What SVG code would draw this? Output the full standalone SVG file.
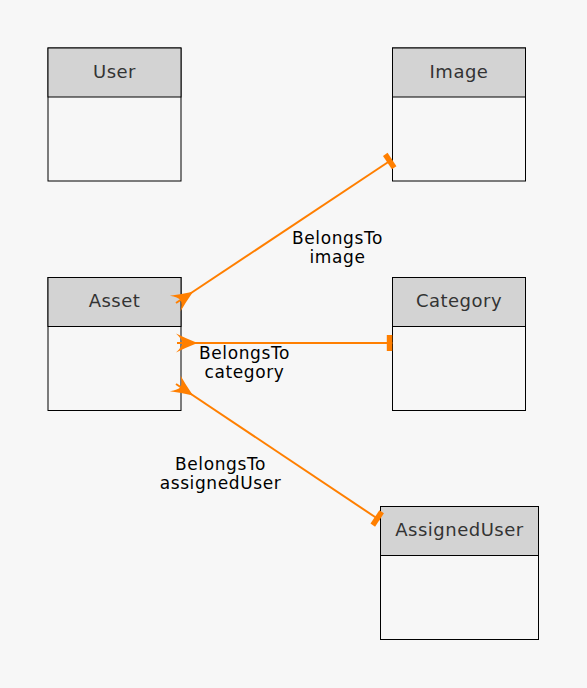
<svg xmlns="http://www.w3.org/2000/svg" width="587" height="688" viewBox="0 0 587 688">
<defs>
<style>
.bg{fill:#f7f7f7}
.body{fill:#f7f7f7;stroke:#000;stroke-width:1}
.head{fill:#d3d3d3;stroke:#000;stroke-width:1}
.title{font-family:"DejaVu Sans",sans-serif;font-size:18px;letter-spacing:0.5px;fill:#333;text-anchor:middle}
.lbl{font-family:"DejaVu Sans",sans-serif;font-size:17px;letter-spacing:0.6px;fill:#000;text-anchor:middle}
.edge{fill:none;stroke:#ff7f00;stroke-width:2;marker-start:url(#crow);marker-end:url(#tee)}
</style>
<marker id="crow" markerUnits="userSpaceOnUse" markerWidth="24" markerHeight="24" viewBox="-2 -12 24 24" refX="0" refY="0" orient="auto" overflow="visible">
<path d="M20.5,0 Q9,-4.5 -1,-9.5 Q5,-4 5.5,0 Q5,4 -1,9.5 Q9,4.5 20.5,0 Z" fill="#ff7f00"/>
</marker>
<marker id="tee" markerUnits="userSpaceOnUse" markerWidth="12" markerHeight="20" viewBox="-8 -10 12 20" refX="0" refY="0" orient="auto" overflow="visible">
<rect x="-5.5" y="-8" width="5.5" height="16" fill="#ff7f00"/>
</marker>
</defs>
<rect class="bg" x="0" y="0" width="587" height="688"/>
<g id="User">
<rect class="body" x="48" y="48" width="133" height="133"/>
<rect class="head" x="48" y="48" width="133" height="49"/>
<text class="title" x="114.5" y="78">User</text>
</g>
<g id="Image">
<rect class="body" x="392.5" y="48" width="133" height="133"/>
<rect class="head" x="392.5" y="48" width="133" height="49"/>
<text class="title" x="459" y="78">Image</text>
</g>
<g id="Asset">
<rect class="body" x="48" y="277.5" width="133" height="133"/>
<rect class="head" x="48" y="277.5" width="133" height="49"/>
<text class="title" x="114.5" y="307">Asset</text>
</g>
<g id="Category">
<rect class="body" x="392.5" y="277.5" width="133" height="133"/>
<rect class="head" x="392.5" y="277.5" width="133" height="49"/>
<text class="title" x="459" y="307">Category</text>
</g>
<g id="AssignedUser">
<rect class="body" x="380.5" y="506.5" width="158" height="133"/>
<rect class="head" x="380.5" y="506.5" width="158" height="49"/>
<text class="title" x="459.5" y="536">AssignedUser</text>
</g>
<g id="connectors">
<path id="e-image" class="edge" d="M176,303 L392,159.5"/>
<path id="e-category" class="edge" d="M177,343 L392.3,343"/>
<path id="e-assigned" class="edge" d="M176,384 L379.5,520"/>
<text class="lbl" x="337.5" y="243.5">BelongsTo</text>
<text class="lbl" x="337.5" y="262.5">image</text>
<text class="lbl" x="244.5" y="358.5">BelongsTo</text>
<text class="lbl" x="244.5" y="377.5">category</text>
<text class="lbl" x="220.5" y="470">BelongsTo</text>
<text class="lbl" x="220.5" y="489">assignedUser</text>
</g>
</svg>
